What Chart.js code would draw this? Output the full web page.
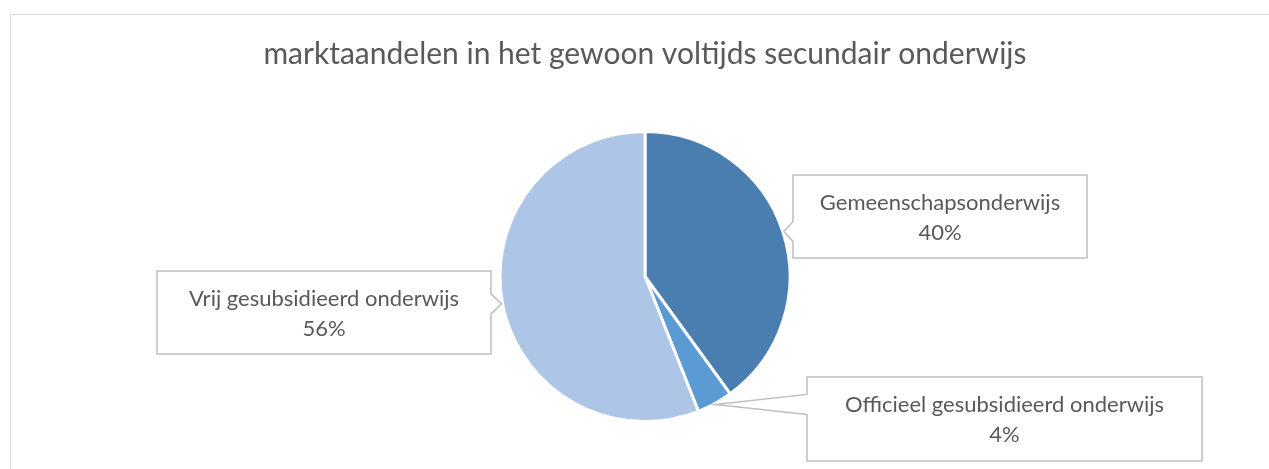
<!DOCTYPE html>
<html>
<head>
<meta charset="utf-8">
<script src="https://cdn.jsdelivr.net/npm/chart.js@4"></script>
<style>
  html, body { margin: 0; padding: 0; background: #fff; }
  #wrap { position: relative; width: 1269px; height: 469px; }
</style>
</head>
<body>
<div id="wrap"><canvas id="chart" width="1269" height="469"></canvas></div>
<script>
var chartTitle = 'marktaandelen in het gewoon voltijds secundair onderwijs';
var categories = ['Gemeenschapsonderwijs', 'Officieel gesubsidieerd onderwijs', 'Vrij gesubsidieerd onderwijs'];
var shares = [40, 4, 56];
var sliceColors = ['#4a7eb0', '#5b9bd5', '#adc5e6'];

// callout boxes (layout only): x, y, w, h per slice
var calloutBoxes = [
    { x: 793, y: 175, w: 294, h: 83 },
    { x: 807, y: 377, w: 395, h: 84 },
    { x: 157, y: 271, w: 334, h: 83 }
];

var fontFamily = 'Lato, "Open Sans", sans-serif';
var textColor = '#595959';

var framePlugin = {
    id: 'frame',
    beforeDraw: function(chart) {
        var ctx = chart.ctx;
        ctx.save();
        ctx.fillStyle = '#fff';
        ctx.fillRect(0, 0, chart.width, chart.height);
        ctx.strokeStyle = '#d9d9d9';
        ctx.lineWidth = 1;
        ctx.strokeRect(10.5, 14.5, 1400, 600);
        ctx.restore();
    }
};

var calloutPlugin = {
    id: 'callouts',
    afterDatasetsDraw: function(chart) {
        var ctx = chart.ctx;
        var meta = chart.getDatasetMeta(0);
        var data = chart.data.datasets[0].data;
        var total = 0;
        for (var i = 0; i < data.length; i++) total += data[i];

        ctx.save();
        for (var k = 0; k < meta.data.length; k++) {
            var arc = meta.data[k];
            var b = calloutBoxes[k];
            var mid = (arc.startAngle + arc.endAngle) / 2;
            var r = arc.outerRadius + 1;
            var tx = arc.x + Math.cos(mid) * r;
            var ty = arc.y + Math.sin(mid) * r;
            var half = 10;
            var cy = Math.max(b.y + half + 2, Math.min(b.y + b.h - half - 2, ty));
            var onLeft = tx < b.x;

            ctx.beginPath();
            ctx.moveTo(b.x, b.y);
            ctx.lineTo(b.x + b.w, b.y);
            if (!onLeft) {
                ctx.lineTo(b.x + b.w, cy - half);
                ctx.lineTo(tx, ty);
                ctx.lineTo(b.x + b.w, cy + half);
            }
            ctx.lineTo(b.x + b.w, b.y + b.h);
            ctx.lineTo(b.x, b.y + b.h);
            if (onLeft) {
                ctx.lineTo(b.x, cy + half);
                ctx.lineTo(tx, ty);
                ctx.lineTo(b.x, cy - half);
            }
            ctx.closePath();
            ctx.fillStyle = '#ffffff';
            ctx.fill();
            ctx.strokeStyle = '#bfbfbf';
            ctx.lineWidth = 1.5;
            ctx.stroke();

            var pct = Math.round(data[k] / total * 100) + '%';
            ctx.fillStyle = textColor;
            ctx.font = '22px ' + fontFamily;
            ctx.textAlign = 'center';
            ctx.textBaseline = 'middle';
            var cx = b.x + b.w / 2;
            var my = b.y + b.h / 2;
            ctx.fillText(chart.data.labels[k], cx, my - 14);
            ctx.fillText(pct, cx, my + 16);
        }
        ctx.restore();
    }
};

new Chart(document.getElementById('chart'), {
    type: 'pie',
    data: {
        labels: categories,
        datasets: [{
            data: shares,
            backgroundColor: sliceColors,
            borderColor: '#ffffff',
            borderWidth: 3
        }]
    },
    options: {
        responsive: false,
        animation: false,
        layout: { padding: { left: 21, right: 0, top: 0, bottom: 46 } },
        plugins: {
            legend: { display: false },
            tooltip: { enabled: false },
            title: {
                display: true,
                text: chartTitle,
                color: textColor,
                font: { family: fontFamily, size: 30, weight: 'normal' },
                padding: { top: 36, bottom: 58 }
            }
        }
    },
    plugins: [framePlugin, calloutPlugin]
});
</script>
</body>
</html>
